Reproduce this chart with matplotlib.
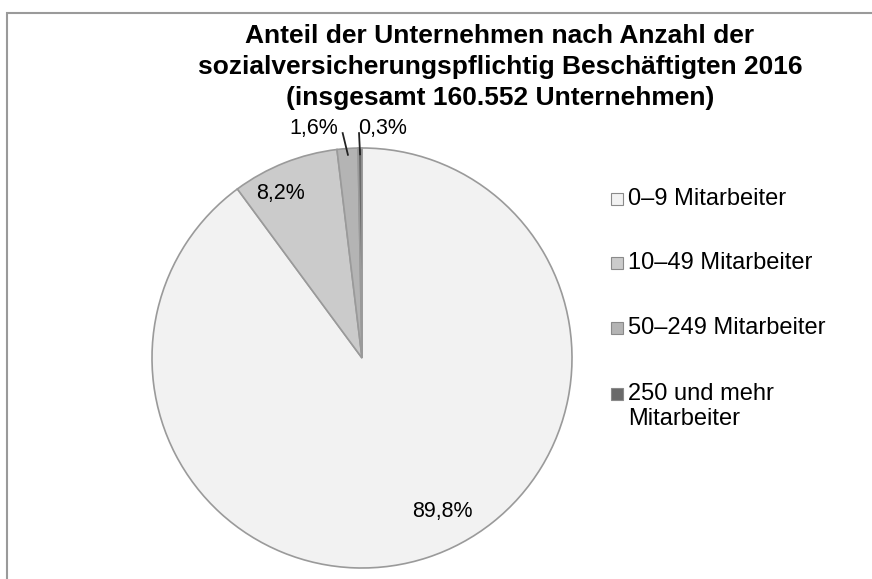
import numpy as np
import matplotlib.pyplot as plt
from matplotlib.patches import Rectangle

plt.rcParams['font.family'] = ['Liberation Sans', 'DejaVu Sans']

# Data
categories = ['0–9 Mitarbeiter', '10–49 Mitarbeiter', '50–249 Mitarbeiter', '250 und mehr\nMitarbeiter']
shares = [89.8, 8.2, 1.6, 0.3]
pct_labels = ['89,8%', '8,2%', '1,6%', '0,3%']
colors = ['#f2f2f2', '#cbcbcb', '#b4b4b4', '#6a6a6a']
title_lines = ['Anteil der Unternehmen nach Anzahl der',
               'sozialversicherungspflichtig Beschäftigten 2016',
               '(insgesamt 160.552 Unternehmen)']

W, H = 872, 579
fig = plt.figure(figsize=(W / 100, H / 100), dpi=100)

# frame around the chart (right/bottom edges cut off in the original)
fig.add_artist(Rectangle((7 / W, -0.1), 1.2, (H - 13) / H + 0.1, transform=fig.transFigure,
                         fill=False, edgecolor='#9a9a9a', lw=1.5))

# pie axes: centre (362, 358) px, radius 210 px
cx, cy, r = 362, 358, 210
ax = fig.add_axes([(cx - r) / W, (H - cy - r) / H, 2 * r / W, 2 * r / H])
wedges, _ = ax.pie(shares, colors=colors, startangle=90, counterclock=False,
                   wedgeprops=dict(edgecolor='#9a9a9a', linewidth=1.2))
ax.set_xlim(-1, 1)
ax.set_ylim(-1, 1)
ax.set_aspect('equal')
ax.axis('off')

# percentage labels (positions in pie units)
label_pos = [(0.381, -0.733), (-0.386, 0.781), (-0.229, 1.095), (0.10, 1.095)]
for i, w in enumerate(wedges):
    lx, ly = label_pos[i]
    ax.text(lx, ly, pct_labels[i], ha='center', va='center', fontsize=15.5)
    if i >= 2:
        ang = np.deg2rad((w.theta1 + w.theta2) / 2)
        x0, y0 = 0.97 * np.cos(ang), 0.97 * np.sin(ang)
        x1 = x0 - 0.025 if i == 2 else x0 - 0.005
        ax.plot([x0, x1], [y0, 1.071], color='#222222', lw=1.3, clip_on=False)

# title
for k, line in enumerate(title_lines):
    fig.text(500 / W, 1 - (43 + 31 * k) / H, line, ha='center', va='baseline',
             fontsize=19, fontweight='bold')

# legend (drawn by hand: marker sits on the first text line)
row_y = [199, 263, 328, 394]
for c, lab, y in zip(colors, categories, row_y):
    fig.add_artist(Rectangle((611 / W, 1 - (y + 6) / H), 12 / W, 12 / H,
                             transform=fig.transFigure, facecolor=c,
                             edgecolor='#8a8a8a', lw=0.8))
    fig.text(628 / W, 1 - (y - 11) / H, lab, ha='left', va='top', fontsize=17,
             linespacing=1.15)

fig.savefig('out.png', dpi=100)
